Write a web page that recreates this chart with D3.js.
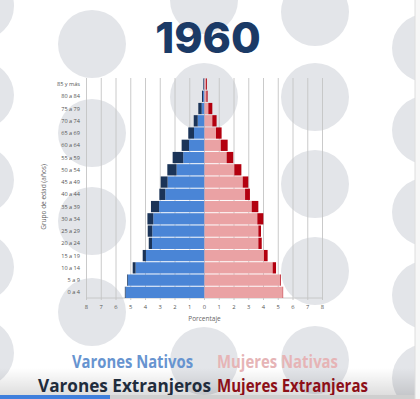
<!DOCTYPE html>
<html>
<head>
<meta charset="utf-8">
<script src="https://cdn.jsdelivr.net/npm/d3@7"></script>
<style>
  body { margin: 0; background: #fff; }
  svg { display: block; }
</style>
</head>
<body>
<svg class="chart"></svg>
<script>
const categories = ["0 a 4", "5 a 9", "10 a 14", "15 a 19", "20 a 24", "25 a 29", "30 a 34", "35 a 39", "40 a 44",
  "45 a 49", "50 a 54", "55 a 59", "60 a 64", "65 a 69", "70 a 74", "75 a 79", "80 a 84", "85 y más"];
const varonesNativos = [5.35, 5.2, 4.67, 3.97, 3.56, 3.54, 3.47, 3.08, 2.66, 2.5, 1.89, 1.44, 1.05, 0.71, 0.46, 0.19, 0.1, 0.05];
const varonesExtranjeros = [0.05, 0.05, 0.2, 0.22, 0.22, 0.31, 0.4, 0.55, 0.4, 0.47, 0.63, 0.72, 0.5, 0.39, 0.27, 0.23, 0.07, 0.04];
const mujeresNativas = [5.3, 5.12, 4.62, 4.03, 3.65, 3.65, 3.58, 3.2, 2.75, 2.59, 2.02, 1.5, 1.1, 0.78, 0.53, 0.26, 0.13, 0.1];
const mujeresExtranjeras = [0.03, 0.05, 0.23, 0.25, 0.23, 0.18, 0.41, 0.45, 0.33, 0.38, 0.48, 0.45, 0.47, 0.38, 0.29, 0.27, 0.08, 0.06];
const xTicks = [-8, -7, -6, -5, -4, -3, -2, -1, 0, 1, 2, 3, 4, 5, 6, 7, 8];

// background dots
const dots = [[-20, 6], [-20, 95], [-20, 180], [-20, 267], [-20, 353],
  [92, 44], [92, 133], [92, 221], [92, 312],
  [204, 0], [204, 97], [204, 361],
  [315, 12], [315, 97], [315, 184], [315, 271], [315, 360],
  [426, 48], [426, 130], [426, 212], [426, 295], [426, 378]];

const width = 420, height = 399;
const svg = d3.select(".chart").attr("width", width).attr("height", height);

svg.append("rect").attr("width", width).attr("height", height).attr("fill", "#fff");
svg.selectAll(".dot").data(dots).enter().append("circle")
  .attr("class", "dot")
  .attr("cx", d => d[0]).attr("cy", d => d[1]).attr("r", 34)
  .attr("fill", "#e3e5e9");

svg.append("text")
  .attr("x", 208).attr("y", 53)
  .attr("text-anchor", "middle")
  .attr("font-family", "Inter, 'DejaVu Sans', sans-serif")
  .attr("font-weight", 800)
  .attr("font-size", 43)
  .attr("fill", "#1b3a66")
  .text("1960");

let x = d3.scaleLinear().domain([-8, 8]).range([86.5, 322.5]);
let y = d3.scaleBand().domain(categories).range([298, 78.4]).paddingInner(0.08);

let chart = svg.append("g");

chart.selectAll(".grid").data(xTicks).enter().append("line")
  .attr("class", "grid")
  .attr("x1", d => x(d)).attr("x2", d => x(d))
  .attr("y1", 78).attr("y2", 300)
  .attr("stroke", "#c4c4c4").attr("stroke-width", 0.9);

chart.append("line")
  .attr("x1", x(-8)).attr("x2", x(8)).attr("y1", 298).attr("y2", 298)
  .attr("stroke", "#c4c4c4").attr("stroke-width", 0.9);

const rows = categories.map((c, i) => ({
  cat: c, vn: varonesNativos[i], ve: varonesExtranjeros[i], mn: mujeresNativas[i], me: mujeresExtranjeras[i]
}));

chart.selectAll(".vn").data(rows).enter().append("rect")
  .attr("x", d => x(-d.vn)).attr("y", d => y(d.cat))
  .attr("width", d => x(0) - x(-d.vn)).attr("height", y.bandwidth())
  .attr("fill", "#4a85d6");
chart.selectAll(".ve").data(rows).enter().append("rect")
  .attr("x", d => x(-d.vn - d.ve)).attr("y", d => y(d.cat))
  .attr("width", d => x(-d.vn) - x(-d.vn - d.ve)).attr("height", y.bandwidth())
  .attr("fill", "#1b3458");
chart.selectAll(".mn").data(rows).enter().append("rect")
  .attr("x", x(0)).attr("y", d => y(d.cat))
  .attr("width", d => x(d.mn) - x(0)).attr("height", y.bandwidth())
  .attr("fill", "#eaa2a4");
chart.selectAll(".me").data(rows).enter().append("rect")
  .attr("x", d => x(d.mn)).attr("y", d => y(d.cat))
  .attr("width", d => x(d.mn + d.me) - x(d.mn)).attr("height", y.bandwidth())
  .attr("fill", "#b3000f");

chart.selectAll(".ylab").data(categories).enter().append("text")
  .attr("x", 80).attr("y", d => y(d) + y.bandwidth() / 2 + 2)
  .attr("text-anchor", "end")
  .attr("font-family", "'Open Sans', sans-serif")
  .attr("font-size", 5.6)
  .attr("fill", "#555")
  .text(d => d);

chart.selectAll(".xlab").data(xTicks).enter().append("text")
  .attr("x", d => x(d)).attr("y", 309)
  .attr("text-anchor", "middle")
  .attr("font-family", "'Open Sans', sans-serif")
  .attr("font-size", 5.8)
  .attr("fill", "#555")
  .text(d => Math.abs(d));

chart.append("text")
  .attr("x", x(0)).attr("y", 321)
  .attr("text-anchor", "middle")
  .attr("font-family", "'Open Sans', sans-serif")
  .attr("font-size", 6.5)
  .attr("fill", "#666")
  .text("Porcentaje");

chart.append("text")
  .attr("transform", "translate(46,197) rotate(-90)")
  .attr("text-anchor", "middle")
  .attr("font-family", "'Open Sans', sans-serif")
  .attr("font-size", 6.5)
  .attr("fill", "#666")
  .text("Grupo de edad (años)");

// video overlay at the bottom
const grad = svg.append("defs").append("linearGradient")
  .attr("id", "shade").attr("x1", 0).attr("x2", 0).attr("y1", 0).attr("y2", 1);
grad.append("stop").attr("offset", 0).attr("stop-color", "#000").attr("stop-opacity", 0);
grad.append("stop").attr("offset", 1).attr("stop-color", "#000").attr("stop-opacity", 0.13);
svg.append("rect").attr("x", 0).attr("y", 368).attr("width", width).attr("height", 27).attr("fill", "url(#shade)");

const legend = [
  {label: "Varones Nativos", x: 72, y: 368, w: 121, color: "#6794d0"},
  {label: "Mujeres Nativas", x: 217, y: 368, w: 121, color: "#e6b4b6"},
  {label: "Varones Extranjeros", x: 38, y: 392, w: 173, color: "#1f2c3c"},
  {label: "Mujeres Extranjeras", x: 217, y: 392, w: 151, color: "#8d0f18"}
];
svg.selectAll(".leg").data(legend).enter().append("text")
  .attr("x", d => d.x).attr("y", d => d.y)
  .attr("font-family", "'Open Sans', sans-serif")
  .attr("font-weight", 700)
  .attr("font-size", 17.5)
  .attr("textLength", d => d.w)
  .attr("lengthAdjust", "spacingAndGlyphs")
  .attr("fill", d => d.color)
  .text(d => d.label);

svg.append("rect").attr("x", 0).attr("y", 395).attr("width", width).attr("height", 4).attr("fill", "#cfcfcf");
svg.append("rect").attr("x", 0).attr("y", 395).attr("width", 110).attr("height", 4).attr("fill", "#3f7fdc");
svg.append("rect").attr("x", 415).attr("y", 0).attr("width", 5).attr("height", height).attr("fill", "#f7f7f7");
svg.append("line").attr("x1", 415).attr("x2", 415).attr("y1", 0).attr("y2", height).attr("stroke", "#dedede");
</script>
</body>
</html>
